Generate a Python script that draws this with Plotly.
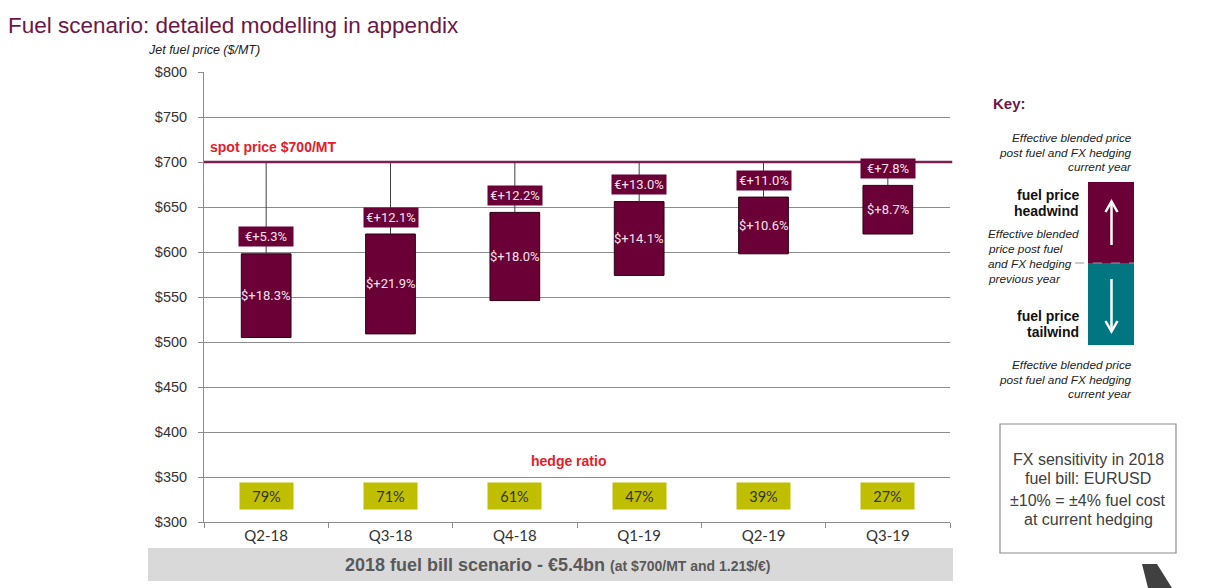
import plotly.graph_objects as go

# ---- data ----
quarters = ["Q2-18", "Q3-18", "Q4-18", "Q1-19", "Q2-19", "Q3-19"]
price_top = [598, 620, 644, 656, 661, 674]       # effective blended price current year
price_bottom = [505, 509, 546, 574, 598, 620]    # effective blended price previous year
spot_price = 700
eur_labels = ["€+5.3%", "€+12.1%", "€+12.2%", "€+13.0%", "€+11.0%", "€+7.8%"]
usd_labels = ["$+18.3%", "$+21.9%", "$+18.0%", "$+14.1%", "$+10.6%", "$+8.7%"]
hedge_ratio = ["79%", "71%", "61%", "47%", "39%", "27%"]
y_ticks = [300, 350, 400, 450, 500, 550, 600, 650, 700, 750, 800]

# ---- style ----
MAROON = "#6B0036"
TEAL = "#007681"
OLIVE = "#BFBF00"
GRID = "#8C8C8C"
ARIAL = "Liberation Sans, Arial, sans-serif"
CAL = "Lato, sans-serif"
LBL = "Roboto, sans-serif"

OFF = 8  # page body margin
L, R, T, B = 204, 950, 72, 522  # plot area in page px
W, H = 1218 - OFF, 588 - OFF


def px(x, y):
    return (x - L) / (R - L), (B - y) / (B - T)


fig = go.Figure()

# whiskers from box top to spot price
wx, wy = [], []
for q, t in zip(quarters, price_top):
    wx += [q, q, None]
    wy += [t, spot_price, None]
fig.add_trace(go.Scatter(x=wx, y=wy, mode="lines", line=dict(color="#404040", width=1),
                         hoverinfo="skip", showlegend=False))

# price boxes
fig.add_trace(go.Bar(
    x=quarters,
    y=[t - b for t, b in zip(price_top, price_bottom)],
    base=price_bottom,
    width=0.4,
    marker=dict(color=MAROON, line=dict(color="#2A0015", width=1)),
    hoverinfo="skip", showlegend=False,
))

annotations = []
shapes = []

# spot price line
shapes.append(dict(type="line", xref="paper", yref="y", x0=0, x1=1.003, y0=spot_price, y1=spot_price,
                   line=dict(color="#7A1F4F", width=2.5), layer="above"))

for q, t, b, e, u, h in zip(quarters, price_top, price_bottom, eur_labels, usd_labels, hedge_ratio):
    annotations.append(dict(x=q, y=t, xref="x", yref="y", text=e, showarrow=False, yshift=17,
                            bgcolor=MAROON, width=52, height=17, borderpad=1,
                            font=dict(family=LBL, size=13, color="#F4E2EA")))
    annotations.append(dict(x=q, y=(t + b) / 2, xref="x", yref="y", text=u, showarrow=False,
                            font=dict(family=LBL, size=13, color="#F4E2EA")))
    annotations.append(dict(x=q, y=329, xref="x", yref="y", text=h, showarrow=False,
                            bgcolor=OLIVE, width=53, height=26, borderpad=0,
                            font=dict(family=CAL, size=14.5, color="#333333")))


def txt(x, y, text, size, color="#222222", xanchor="left", bold=False, italic=False, family=ARIAL,
        align=None):
    xp, yp = px(x, y)
    if bold:
        text = "<b>" + text + "</b>"
    if italic:
        text = "<i>" + text + "</i>"
    d = dict(x=xp, y=yp, xref="paper", yref="paper", text=text, showarrow=False,
             xanchor=xanchor, yanchor="middle", font=dict(family=family, size=size, color=color))
    if align:
        d["align"] = align
    annotations.append(d)


# titles
txt(6, 25, "Fuel scenario: detailed modelling in appendix", 22.5, color="#6E1645")
txt(146, 50, "Jet fuel price ($/MT)", 12.5, color="#222222", italic=True)
txt(208, 147, "spot price $700/MT", 14, color="#E3202A", bold=True)
txt(568, 461, "hedge ratio", 14, color="#E3202A", bold=True, xanchor="center")

# bottom banner
x0, y0 = px(148, 548)
x1, y1 = px(953, 581)
shapes.append(dict(type="rect", xref="paper", yref="paper", x0=x0, x1=x1, y0=y0, y1=y1,
                   fillcolor="#D9D9D9", line=dict(width=0), layer="below"))
txt(557, 565, "2018 fuel bill scenario - €5.4bn <span style='font-size:14px'>(at $700/MT and 1.21$/€)</span>",
    18, color="#595959", bold=True, xanchor="center")

# key
txt(991, 103, "Key:", 15, color="#6E1645", bold=True)
for yy, s in zip([138, 152.5, 167], ["Effective blended price", "post fuel and FX hedging", "current year"]):
    txt(1134, yy, s, 11.8, italic=True, xanchor="right")
for yy, s in zip([365, 379.5, 394], ["Effective blended price", "post fuel and FX hedging", "current year"]):
    txt(1134, yy, s, 11.8, italic=True, xanchor="right")
for yy, s in zip([234, 249, 263.5, 278.5], ["Effective blended", "price post fuel", "and FX hedging", "previous year"]):
    txt(986, yy, s, 11.8, italic=True)
txt(1081, 195, "fuel price", 14, bold=True, xanchor="right", color="#111111")
txt(1081, 211, "headwind", 14, bold=True, xanchor="right", color="#111111")
txt(1081, 316, "fuel price", 14, bold=True, xanchor="right", color="#111111")
txt(1081, 332, "tailwind", 14, bold=True, xanchor="right", color="#111111")

x0, y0 = px(1088, 182)
x1, y1 = px(1134, 263)
shapes.append(dict(type="rect", xref="paper", yref="paper", x0=x0, x1=x1, y0=y0, y1=y1,
                   fillcolor=MAROON, line=dict(width=0)))
x0, y0 = px(1088, 263)
x1, y1 = px(1134, 345)
shapes.append(dict(type="rect", xref="paper", yref="paper", x0=x0, x1=x1, y0=y0, y1=y1,
                   fillcolor=TEAL, line=dict(width=0)))
x0, y0 = px(1075, 263)
x1, y1 = px(1134, 263)
shapes.append(dict(type="line", xref="paper", yref="paper", x0=x0, x1=x1, y0=y0, y1=y1,
                   line=dict(color="#9A9A9A", width=1, dash="dash")))


def path(points, close=False):
    s = ""
    for i, (a, b) in enumerate(points):
        xp, yp = px(a, b)
        s += ("M" if i == 0 else "L") + f"{xp:.5f},{yp:.5f} "
    if close:
        s += "Z"
    return s


arrow_line = dict(color="white", width=2.5)
shapes.append(dict(type="path", xref="paper", yref="paper", path=path([(1111.5, 245), (1111.5, 202)]), line=arrow_line))
shapes.append(dict(type="path", xref="paper", yref="paper",
                   path=path([(1105.5, 212), (1111.5, 201.5), (1117.5, 212)]), line=arrow_line))
shapes.append(dict(type="path", xref="paper", yref="paper", path=path([(1111.5, 279), (1111.5, 331)]), line=arrow_line))
shapes.append(dict(type="path", xref="paper", yref="paper",
                   path=path([(1105.5, 321), (1111.5, 331.5), (1117.5, 321)]), line=arrow_line))

# FX sensitivity box
x0, y0 = px(1000, 424)
x1, y1 = px(1176, 553)
shapes.append(dict(type="rect", xref="paper", yref="paper", x0=x0, x1=x1, y0=y0, y1=y1,
                   fillcolor="white", line=dict(color="#8C8C8C", width=1.2)))
for yy, s in zip([459.5, 478.5, 500.5, 519.5],
                 ["FX sensitivity in 2018", "fuel bill: EURUSD", "±10% = ±4% fuel cost", "at current hedging"]):
    txt(1088, yy, s, 16, color="#404040", xanchor="center")

# decorative corner shape
shapes.append(dict(type="path", xref="paper", yref="paper",
                   path=path([(1142, 564), (1157, 564), (1172, 588), (1148, 588)], close=True),
                   fillcolor="#404040", line=dict(width=0)))

fig.update_layout(
    width=W, height=H,
    margin=dict(l=L - OFF, r=W - (R - OFF), t=T - OFF, b=H - (B - OFF), pad=0),
    paper_bgcolor="white", plot_bgcolor="white",
    showlegend=False,
    bargap=0.6,
    xaxis=dict(type="category", categoryorder="array", categoryarray=quarters,
               showgrid=False, showline=True, linecolor=GRID, linewidth=1,
               ticks="outside", tickson="boundaries", ticklen=5, tickcolor=GRID,
               tickfont=dict(family=CAL, size=15, color="#333333"), zeroline=False),
    yaxis=dict(range=[300, 800], tickvals=y_ticks, ticktext=[f"${v}" for v in y_ticks],
               showgrid=True, gridcolor=GRID, gridwidth=1,
               showline=True, linecolor=GRID, linewidth=1,
               ticks="outside", ticklen=5, tickcolor=GRID, ticklabelstandoff=8,
               tickfont=dict(family=ARIAL, size=14.5, color="#333333"), zeroline=False),
    annotations=annotations,
    shapes=shapes,
)

fig.write_html("out.html")
